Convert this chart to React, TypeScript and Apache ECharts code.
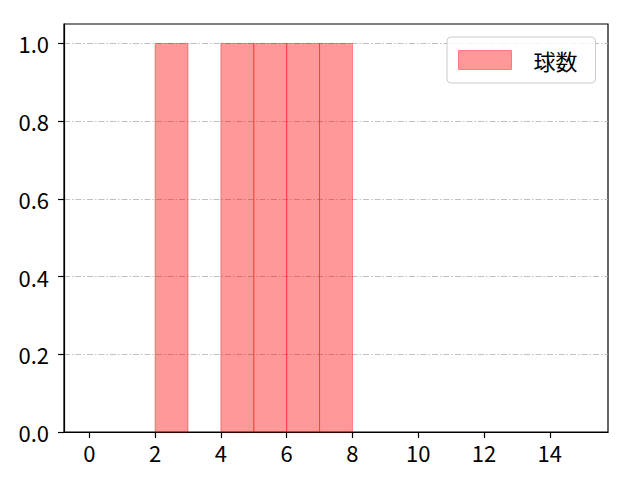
import React, { useEffect, useRef } from 'react';
import * as echarts from 'echarts';

const binStarts = [0, 1, 2, 3, 4, 5, 6, 7, 8, 9, 10, 11, 12, 13, 14];
const binEnds = [1, 2, 3, 4, 5, 6, 7, 8, 9, 10, 11, 12, 13, 14, 15];
const counts = [0, 0, 1, 0, 1, 1, 1, 1, 0, 0, 0, 0, 0, 0, 0];
const xTickLabels = [0, 2, 4, 6, 8, 10, 12, 14];
const seriesName = '球数';

const FONT = '"Noto Sans CJK JP", "DejaVu Sans", sans-serif';

const App: React.FC = () => {
  const chartRef = useRef<HTMLDivElement>(null);

  useEffect(() => {
    if (!chartRef.current) return;
    const chart = echarts.init(chartRef.current, undefined, { renderer: 'svg' });

    const bars = binStarts
      .map((s, i) => [s, binEnds[i], counts[i]])
      .filter((d) => d[2] > 0);

    const option = {
      animation: false,
      textStyle: { fontFamily: FONT },
      grid: {
        left: 64,
        right: 32,
        top: 24,
        bottom: 48,
        show: true,
        borderColor: '#000',
        borderWidth: 1.2,
        backgroundColor: 'transparent',
      },
      legend: {
        left: 447,
        top: 37,
        padding: [12, 18, 12, 11],
        borderColor: '#cccccc',
        borderWidth: 1,
        borderRadius: 4,
        backgroundColor: 'rgba(255,255,255,0.8)',
        itemWidth: 53,
        itemHeight: 19,
        data: [
          {
            name: seriesName,
            icon: 'rect',
            itemStyle: { color: 'rgba(255,0,0,0.4)', borderColor: 'rgba(255,0,0,0.4)', borderWidth: 1 },
          },
        ],
        textStyle: { fontSize: 22, color: '#000', fontFamily: FONT, padding: [0, 0, 0, 17] },
      },
      xAxis: {
        type: 'value',
        min: -0.77,
        max: 15.77,
        axisLine: { show: true, onZero: false, lineStyle: { color: '#000', width: 1.2 } },
        axisTick: {
          show: true,
          length: 6,
          lineStyle: { color: '#000', width: 1.2 },
          customValues: xTickLabels,
        },
        axisLabel: {
          customValues: xTickLabels,
          color: '#000',
          fontSize: 22,
          margin: 9,
          fontFamily: FONT,
        },
        splitLine: { show: false },
      },
      yAxis: {
        type: 'value',
        min: 0,
        max: 1.05,
        interval: 0.2,
        axisLine: { show: true, onZero: false, lineStyle: { color: '#000', width: 1.2 } },
        axisTick: { show: true, length: 6, lineStyle: { color: '#000', width: 1.2 } },
        axisLabel: {
          color: '#000',
          fontSize: 22,
          margin: 15,
          showMaxLabel: false,
          fontFamily: FONT,
          formatter: (v: number) => v.toFixed(1),
        },
        splitLine: {
          show: true,
          showMinLine: false,
          showMaxLine: false,
          lineStyle: { color: '#b0b0b0', width: 0.8, type: [6, 2, 1.5, 2] },
        },
      },
      series: [
        {
          name: seriesName,
          type: 'custom',
          data: bars,
          encode: { x: [0, 1], y: 2 },
          renderItem: (params: any, api: any) => {
            const p0 = api.coord([api.value(0), api.value(2)]);
            const p1 = api.coord([api.value(1), 0]);
            return {
              type: 'rect',
              shape: { x: p0[0], y: p0[1], width: p1[0] - p0[0], height: p1[1] - p0[1] },
              style: { fill: 'rgba(255,0,0,0.4)', stroke: 'rgba(255,0,0,0.4)', lineWidth: 1 },
            };
          },
        },
      ],
    };

    chart.setOption(option as any);
    return () => {
      chart.dispose();
    };
  }, []);

  return (
    <div
      ref={chartRef}
      style={{ position: 'absolute', left: 0, top: 0, width: 640, height: 480, background: '#fff' }}
    />
  );
};

export default App;
